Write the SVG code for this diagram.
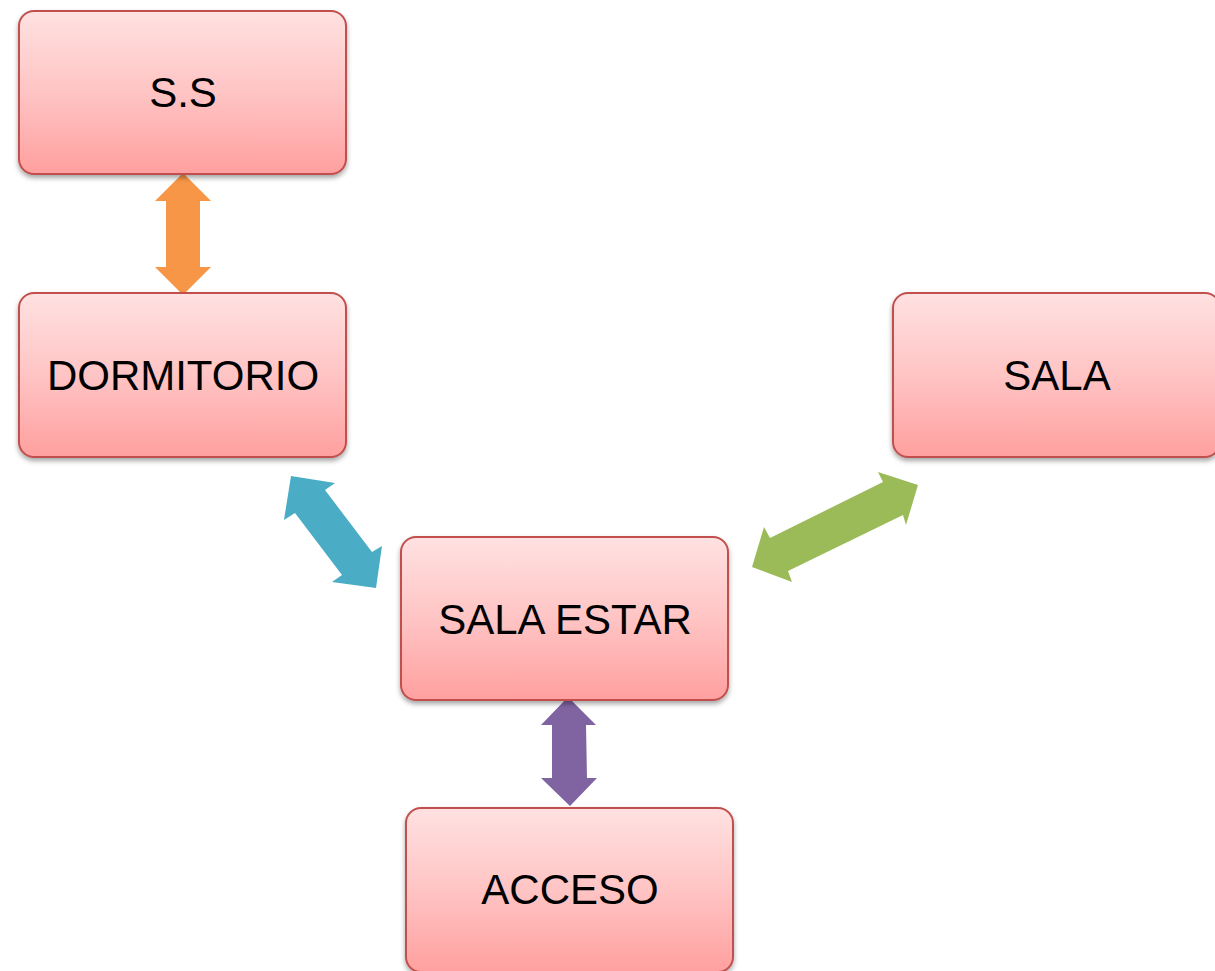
<svg xmlns="http://www.w3.org/2000/svg" width="1215" height="971" viewBox="0 0 1215 971">
<style>
.box{fill:url(#g);stroke:#C0504D;stroke-width:2;filter:url(#sh)}
.lbl{font-family:"Liberation Sans",Arial,sans-serif;font-size:42px;fill:#000;text-anchor:middle}
</style>
<defs>
<linearGradient id="g" x1="0" y1="0" x2="0" y2="1">
<stop offset="0" stop-color="#FFE1E1"/>
<stop offset="0.5" stop-color="#FFC4C4"/>
<stop offset="1" stop-color="#FFA09F"/>
</linearGradient>
<filter id="sh" x="-10%" y="-10%" width="120%" height="130%">
<feDropShadow dx="0" dy="3" stdDeviation="2.5" flood-color="#000" flood-opacity="0.35"/>
</filter>
</defs>
<rect width="1215" height="971" fill="#fff"/>
<g id="connectors">
<polygon fill="#F79646" points="183,173 211,201 200,201 200,267 211,267 183,295 155,267 166,267 166,201 155,201"/>
<polygon fill="#4BACC6" points="291,476 335,483 325,490 372,552 382,546 376,588 332,582 342,575 295,513 284,520"/>
<polygon fill="#9BBB59" points="918,485 906,525 903,515 788,571 792,582 752,567 764,527 770,538 883,482 878,472"/>
<polygon fill="#8064A2" points="568,697 596,725 586,725 587,778 597,778 570,806 541,778 552,778 552,725 541,725"/>
</g>
<g id="node-ss"><rect class="box" x="19" y="11" width="327" height="163" rx="15"/><text class="lbl" x="183" y="107">S.S</text></g>
<g id="node-dormitorio"><rect class="box" x="19" y="293" width="327" height="164" rx="15"/><text class="lbl" x="183" y="390">DORMITORIO</text></g>
<g id="node-sala"><rect class="box" x="893" y="293" width="327" height="164" rx="15"/><text class="lbl" x="1057" y="390">SALA</text></g>
<g id="node-sala-estar"><rect class="box" x="401" y="537" width="327" height="163" rx="15"/><text class="lbl" x="565" y="634">SALA ESTAR</text></g>
<g id="node-acceso"><rect class="box" x="406" y="808" width="327" height="164" rx="15"/><text class="lbl" x="570" y="904">ACCESO</text></g>
</svg>
